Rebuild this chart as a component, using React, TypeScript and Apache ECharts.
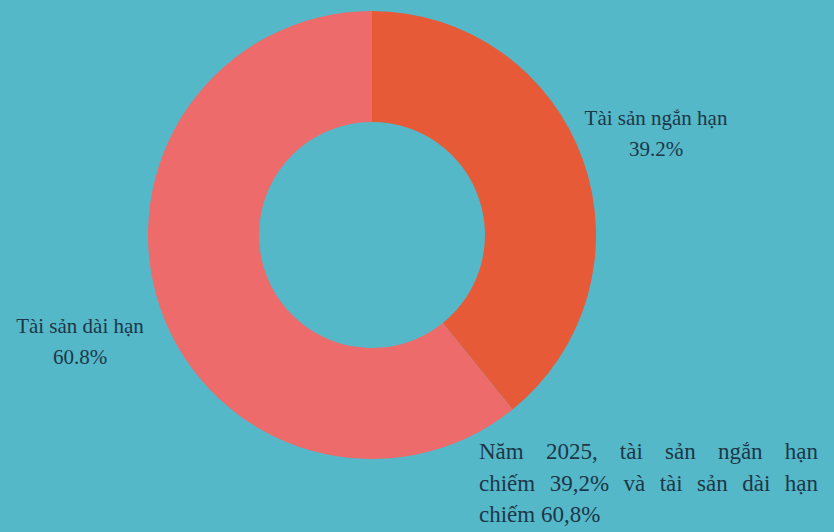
import React, { useEffect, useRef } from "react";
import * as echarts from "echarts";

const categories = ["Tài sản ngắn hạn", "Tài sản dài hạn"];
const shares = [39.2, 60.8];
const shareLabels = ["39.2%", "60.8%"];
const sliceColors = ["#e65a38", "#ed6b6a"];
const noteLines = [
  ["Năm", "2025,", "tài", "sản", "ngắn", "hạn"],
  ["chiếm", "39,2%", "và", "tài", "sản", "dài", "hạn"],
  ["chiếm 60,8%"],
];

const FONT = '"Liberation Serif", "Times New Roman", serif';
const TEXT_COLOR = "#1c3747";

export default function App() {
  const ref = useRef<HTMLDivElement>(null);
  useEffect(() => {
    if (!ref.current) return;
    const chart = echarts.init(ref.current, undefined, { renderer: "svg" });

    const noteSize = 23;
    const noteLeft = 479;
    const noteRight = 818;
    const tops = [440, 472, 503];
    const canvas = document.createElement("canvas");
    const ctx = canvas.getContext("2d")!;
    ctx.font = `${noteSize}px "Liberation Serif"`;
    const noteEls: any[] = [];
    noteLines.forEach((words, li) => {
      const justify = li < noteLines.length - 1 && words.length > 1;
      const widths = words.map((w) => ctx.measureText(w).width);
      const total = widths.reduce((a, b) => a + b, 0);
      const gap = justify
        ? (noteRight - noteLeft - total) / (words.length - 1)
        : ctx.measureText(" ").width;
      let x = noteLeft;
      words.forEach((w, wi) => {
        noteEls.push({
          type: "text",
          x,
          y: tops[li],
          style: {
            text: w,
            font: `${noteSize}px ${FONT}`,
            fill: TEXT_COLOR,
            align: "left",
            verticalAlign: "top",
          },
        });
        x += widths[wi] + gap;
      });
    });

    const edgeDistances = [103, 5];
    const lineLengths = [82, 95];

    chart.setOption({
      animation: false,
      backgroundColor: "#55b8c9",
      graphic: noteEls,
      series: [
        {
          type: "pie",
          center: [372, 235],
          radius: [113, 224],
          startAngle: 90,
          clockwise: true,
          avoidLabelOverlap: false,
          silent: true,
          color: sliceColors,
          itemStyle: { borderWidth: 0 },
          label: {
            show: true,
            position: "outside",
            alignTo: "edge",
            formatter: (p: any) =>
              `{t|${p.name}}\n{t|${shareLabels[p.dataIndex]}}`,
            rich: {
              t: {
                width: 150,
                align: "center",
                fontSize: 21,
                lineHeight: 31,
                fontFamily: FONT,
                color: TEXT_COLOR,
              },
            },
          },
          labelLine: { show: false, length2: 0 },
          data: categories.map((name, i) => ({
            name,
            value: shares[i],
            label: { edgeDistance: edgeDistances[i] },
            labelLine: { length: lineLengths[i], length2: 0, show: false },
          })),
        },
      ],
    });
    return () => chart.dispose();
  }, []);
  return (
    <div
      ref={ref}
      style={{ position: "absolute", left: 0, top: 0, width: 834, height: 532 }}
    />
  );
}
